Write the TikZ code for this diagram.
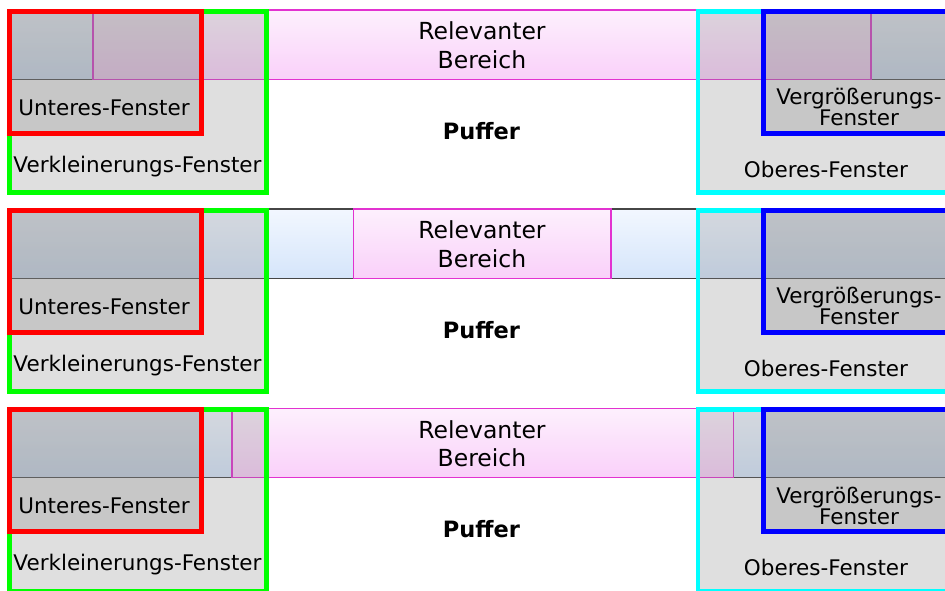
\documentclass[tikz,border=0pt]{standalone}
\usepackage{fontspec}
\setmainfont{DejaVu Sans}
\definecolor{blueTop}{RGB}{242,247,255}
\definecolor{blueBot}{RGB}{213,229,250}
\definecolor{pinkTop}{RGB}{253,240,253}
\definecolor{pinkBot}{RGB}{249,208,249}
\definecolor{magline}{RGB}{226,50,208}
\definecolor{bardark}{RGB}{70,70,70}
\definecolor{overlay}{RGB}{128,128,128}
\definecolor{wgreen}{RGB}{0,255,0}
\definecolor{wred}{RGB}{255,0,0}
\definecolor{wcyan}{RGB}{0,255,255}
\definecolor{wblue}{RGB}{0,0,255}
\begin{document}
\setlength{\lineskiplimit}{-30pt}%
\begin{tikzpicture}[x=1pt,y=-1pt,
  barbox/.style={draw=bardark, line width=1.2pt, top color=blueTop, bottom color=blueBot},
  relbox/.style={draw=magline, line width=1.3pt, top color=pinkTop, bottom color=pinkBot},
  winfill/.style={fill=overlay, fill opacity=0.25},
  winframe/.style={line width=4.5pt},
  lbl/.style={inner sep=0pt, text=black, font=\fontsize{21.5}{21}\selectfont},
  rellbl/.style={inner sep=0pt, text=black, align=center, font=\fontsize{23.5}{28.3}\selectfont},
  puflbl/.style={inner sep=0pt, text=black, font=\fontsize{22.5}{26}\selectfont\bfseries}]
\useasboundingbox (0,0) rectangle (945,590);
\clip (0,0) rectangle (945,590);
\foreach \dy/\a/\b/\i in {0/93/871/1, 199/353.5/611/2, 398.3/232/733.3/3}{
  \path[barbox] (10,10+\dy) rectangle (960,79.5+\dy);
  \path[relbox] (\a,10+\dy) rectangle (\b,79.5+\dy);
  \path[winfill] (9.5,11.4+\dy) rectangle (266.7,192.7+\dy);
  \path[winfill] (9.5,11.4+\dy) rectangle (201.3,133.3+\dy);
  \path[winfill] (698.2,11.4+\dy) rectangle (960,192.7+\dy);
  \path[winfill] (763.5,11.4+\dy) rectangle (960,133.3+\dy);
  \draw[winframe, wgreen] (9.5,11.4+\dy) rectangle (266.7,192.7+\dy);
  \draw[winframe, wred] (9.5,11.4+\dy) rectangle (201.3,133.3+\dy);
  \draw[winframe, wcyan] (698.2,11.4+\dy) rectangle (960,192.7+\dy);
  \draw[winframe, wblue] (763.5,11.4+\dy) rectangle (960,133.3+\dy);
  \node[rellbl] (rel\i) at (482,45.2+\dy) {Relevanter\\Bereich};
  \node[puflbl, anchor=base] (puf\i) at (481.5,139+\dy) {Puffer};
  \node[lbl, anchor=base] (unt\i) at (104,115+\dy) {Unteres-Fenster};
  \node[lbl, anchor=base] (verk\i) at (137.5,172+\dy) {Verkleinerungs-Fenster};
  \node[lbl, anchor=base] (ober\i) at (826,177+\dy) {Oberes-Fenster};
  \node[lbl, align=center] (verg\i) at (859,107.4+\dy) {Vergrößerungs-\\Fenster};
}
\end{tikzpicture}
\end{document}
